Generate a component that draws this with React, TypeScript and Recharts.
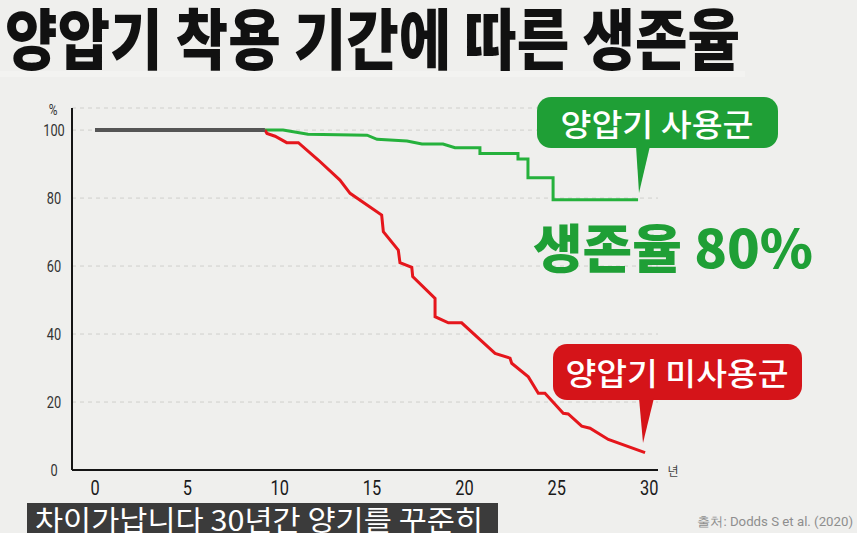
import { LineChart, Line, XAxis, YAxis, CartesianGrid } from "recharts";

// x축 / y축 눈금
const yearTicks = [0, 5, 10, 15, 20, 25, 30];
const percentTicks = [0, 20, 40, 60, 80, 100];

// 공통 구간 (0 ~ 약 9년, 100%)
const sharedYears = [0, 9.2];
const sharedSurvival = [100, 100];

// 양압기 사용군
const cpapYears = [9.2, 10.18, 11.53, 14.73, 15.27, 16.89, 17.7, 18.84, 19.49, 20.84, 20.84, 22.9, 22.9, 23.44, 23.44, 24.8, 24.8, 29.4];
const cpapSurvival = [100, 100, 98.8, 98.5, 97.3, 96.8, 95.9, 95.9, 94.8, 94.8, 93.1, 93.1, 91.5, 91.5, 86, 86, 79.5, 79.5];

// 양압기 미사용군
const noCpapYears = [9.2, 9.31, 9.75, 10.38, 11.01, 12.09, 13.26, 13.81, 15.52, 15.61, 16.42, 16.51, 17.15, 17.2, 18.41, 18.41, 19.13, 19.85, 21.66, 22.47, 22.56, 23.46, 24.0, 24.36, 25.35, 25.62, 26.35, 26.8, 27.79, 29.78];
const noCpapSurvival = [100, 99.0, 98.2, 96.3, 96.3, 91.2, 85.3, 81.4, 75.0, 70.1, 64.7, 61.0, 59.6, 56.9, 50.5, 45.1, 43.3, 43.3, 34.3, 32.9, 31.4, 27.4, 22.6, 22.6, 16.7, 16.5, 12.9, 12.3, 9.0, 5.1];

const toRows = (years: number[], values: number[]) => years.map((year, i) => ({ year, value: values[i] }));

const KR = "'Noto Sans CJK KR', 'Noto Sans', sans-serif";
const NUM = "'Roboto', 'Liberation Sans', sans-serif";
const GREEN = "#1f9f36";
const RED = "#d51419";

// 좁은 글꼴 느낌을 내기 위해 가로로 살짝 줄임
const XTick = (props: any) => {
    const { x, y, payload } = props;
    return (
        <text transform={`translate(${x},${y + 25}) scale(0.78,1)`} textAnchor="middle" fontFamily={NUM} fontSize={21} fill="#1a1a1a">
            {payload.value}
        </text>
    );
};

const YTick = (props: any) => {
    const { x, y, payload } = props;
    return (
        <text transform={`translate(${x - 18},${y + 6}) scale(0.8,1)`} textAnchor="middle" fontFamily={NUM} fontSize={16} fill="#333">
            {payload.value}
        </text>
    );
};

export default function App() {
    return (
        <div style={{ position: "absolute", left: 0, top: 0, width: 857, height: 533, overflow: "hidden", background: "#efefed" }}>
            <LineChart width={857} height={533} margin={{ top: 108, right: 199, bottom: 33, left: 32 }}>
                <CartesianGrid vertical={false} stroke="#cfcfcc" strokeDasharray="4 4" />
                <XAxis
                    type="number"
                    dataKey="year"
                    domain={[-1.245, 30.48]}
                    ticks={yearTicks}
                    height={30}
                    tickSize={0}
                    tickMargin={0}
                    tickLine={false}
                    tick={<XTick />}
                    axisLine={{ stroke: "#151515", strokeWidth: 2 }}
                    allowDataOverflow
                />
                <YAxis
                    type="number"
                    domain={[0, 106.5]}
                    ticks={percentTicks}
                    width={40}
                    tickSize={0}
                    tickMargin={0}
                    tickLine={false}
                    tick={<YTick />}
                    axisLine={{ stroke: "#151515", strokeWidth: 2 }}
                    allowDataOverflow
                />
                <Line data={toRows(cpapYears, cpapSurvival)} dataKey="value" type="linear" stroke="#25b13c" strokeWidth={3} dot={false} isAnimationActive={false} />
                <Line data={toRows(noCpapYears, noCpapSurvival)} dataKey="value" type="linear" stroke="#e5161c" strokeWidth={3} dot={false} isAnimationActive={false} />
                <Line data={toRows(sharedYears, sharedSurvival)} dataKey="value" type="linear" stroke="#555" strokeWidth={4} dot={false} isAnimationActive={false} />
            </LineChart>

            <svg width={857} height={533} style={{ position: "absolute", left: 0, top: 0, pointerEvents: "none" }}>
                {/* 제목: 글자 크기를 키우고 가로 폭을 맞춰 세로로 긴 글꼴처럼 */}
                <rect x={0} y={71} width={745} height={6} fill="#f3f3f1" />
                <text
                    x={5}
                    y={64}
                    fontFamily={KR}
                    fontSize={66}
                    fontWeight={900}
                    fill="#111"
                    textLength={735}
                    lengthAdjust="spacingAndGlyphs"
                >
                    양압기 착용 기간에 따른 생존율
                </text>

                {/* 축 단위 */}
                <text transform="translate(53,115) scale(0.85,1)" textAnchor="middle" fontFamily={NUM} fontSize={14} fill="#333">%</text>
                <text x={673} y={476} textAnchor="middle" fontFamily={KR} fontSize={12} fill="#444">년</text>

                {/* 양압기 사용군 말풍선 */}
                <rect x={537} y={97} width={241} height={51} rx={14} fill={GREEN} />
                <polygon points="636,146 650,146 639,193" fill={GREEN} />
                <text x={657} y={136} textAnchor="middle" fontFamily={KR} fontSize={31} fontWeight={500} fill="#fff" textLength={193} lengthAdjust="spacingAndGlyphs">
                    양압기 사용군
                </text>

                <text x={533} y={268} fontFamily={KR} fontSize={52} fontWeight={900} fill={GREEN} textLength={280} lengthAdjust="spacingAndGlyphs">
                    생존율 80%
                </text>

                {/* 양압기 미사용군 말풍선 */}
                <rect x={553} y={344} width={249} height={56} rx={14} fill={RED} />
                <polygon points="639,398 654,398 643,443" fill={RED} />
                <text x={677} y={385} textAnchor="middle" fontFamily={KR} fontSize={31} fontWeight={500} fill="#fff" textLength={223} lengthAdjust="spacingAndGlyphs">
                    양압기 미사용군
                </text>

                {/* 자막 */}
                <rect x={27} y={503} width={471} height={32} fill="#3b3b3b" />
                <text x={35} y={531} fontFamily={KR} fontSize={28} fill="#fff" textLength={448} lengthAdjust="spacingAndGlyphs">
                    차이가납니다 30년간 양기를 꾸준히
                </text>

                <text x={697} y={526} fontFamily={NUM} fontSize={13} fill="#8e8e8e" textLength={156} lengthAdjust="spacingAndGlyphs">
                    출처: Dodds S et al. (2020)
                </text>
            </svg>
        </div>
    );
}
